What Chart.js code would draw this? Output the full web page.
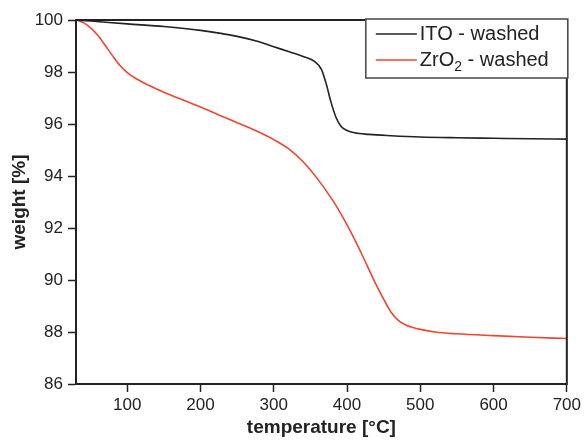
<!DOCTYPE html>
<html>
<head>
<meta charset="utf-8">
<title>TGA washed</title>
<script src="https://cdn.jsdelivr.net/npm/chart.js@4.4.0/dist/chart.umd.min.js"></script>
<style>
html, body { margin: 0; padding: 0; background: #fff; }
canvas { display: block; }
</style>
</head>
<body>
<canvas id="myChart" width="584" height="443"></canvas>
<script>
// ITO - washed
const itoTemp = [30, 50, 100, 150, 200, 250, 280, 300, 320, 340, 355, 365, 372, 378, 385, 392, 400, 410, 430, 460, 500, 550, 600, 650, 700];
const itoWeight = [100, 99.96, 99.85, 99.75, 99.6, 99.37, 99.16, 98.97, 98.79, 98.6, 98.42, 98.1, 97.5, 96.85, 96.25, 95.9, 95.75, 95.66, 95.6, 95.55, 95.5, 95.47, 95.45, 95.43, 95.42];

// ZrO2 - washed
const zrTemp = [30, 40, 50, 60, 70, 80, 90, 100, 110, 130, 150, 175, 200, 225, 250, 275, 300, 320, 340, 360, 380, 390, 400, 410, 420, 440, 455, 460, 470, 480, 490, 500, 520, 550, 600, 650, 700];
const zrWeight = [100, 99.9, 99.7, 99.4, 99.02, 98.62, 98.25, 97.98, 97.78, 97.48, 97.22, 96.93, 96.65, 96.35, 96.05, 95.75, 95.4, 95.05, 94.55, 93.88, 93.08, 92.62, 92.12, 91.58, 91.0, 89.8, 89.0, 88.76, 88.45, 88.27, 88.17, 88.1, 88.0, 87.93, 87.86, 87.8, 87.75];

const xTicks = [100, 200, 300, 400, 500, 600, 700];
const legendLabels = ['ITO - washed', 'ZrO2 - washed'];

const ink = '#222222';
const redLine = '#f0452f';
const fam = '"Liberation Sans", Arial, sans-serif';

function pts(xs, ys) {
  return xs.map((x, i) => ({ x: x, y: ys[i] }));
}

const frame = {
  id: 'frame',
  afterDraw(chart) {
    const ctx = chart.ctx;
    const a = chart.chartArea;
    ctx.save();
    ctx.strokeStyle = ink;
    ctx.lineWidth = 2;
    ctx.strokeRect(a.left, a.top, a.right - a.left, a.bottom - a.top);

    // legend box
    const bx = a.right - 201, by = a.top - 1, bw = 202, bh = 59;
    ctx.fillStyle = '#fff';
    ctx.fillRect(bx, by, bw, bh);
    ctx.lineWidth = 1.5;
    ctx.strokeStyle = '#444';
    ctx.strokeRect(bx, by, bw, bh);

    ctx.font = '20px ' + fam;
    ctx.textBaseline = 'middle';
    ctx.textAlign = 'left';
    const rows = [by + 15, by + 41];
    const colors = [ink, redLine];
    rows.forEach((yy, i) => {
      ctx.strokeStyle = colors[i];
      ctx.lineWidth = 1.5;
      ctx.beginPath();
      ctx.moveTo(bx + 10, yy);
      ctx.lineTo(bx + 51, yy);
      ctx.stroke();
      ctx.fillStyle = ink;
      let tx = bx + 54;
      if (i === 0) {
        ctx.fillText(legendLabels[0], tx, yy);
      } else {
        ctx.fillText('ZrO', tx, yy);
        tx += ctx.measureText('ZrO').width;
        ctx.font = '14px ' + fam;
        ctx.fillText('2', tx, yy + 7);
        tx += ctx.measureText('2').width;
        ctx.font = '20px ' + fam;
        ctx.fillText(' - washed', tx, yy);
      }
    });
    ctx.restore();
  }
};

const tickFont = { family: fam, size: 17 };
const titleFont = { family: fam, size: 19, weight: 'bold' };

new Chart(document.getElementById('myChart'), {
  type: 'line',
  data: {
    datasets: [
      {
        label: legendLabels[0],
        data: pts(itoTemp, itoWeight),
        borderColor: ink,
        borderWidth: 1.6,
        pointRadius: 0,
        fill: false,
        cubicInterpolationMode: 'monotone'
      },
      {
        label: legendLabels[1],
        data: pts(zrTemp, zrWeight),
        borderColor: redLine,
        borderWidth: 1.6,
        pointRadius: 0,
        fill: false,
        cubicInterpolationMode: 'monotone'
      }
    ]
  },
  options: {
    responsive: false,
    animation: false,
    layout: { padding: { top: 20, right: 16, left: 0, bottom: 0 } },
    plugins: { legend: { display: false }, tooltip: { enabled: false } },
    scales: {
      x: {
        type: 'linear',
        min: 30,
        max: 700,
        afterBuildTicks: s => { s.ticks = xTicks.map(v => ({ value: v })); },
        afterFit: s => { s.height = 59; },
        grid: { drawOnChartArea: false, tickLength: 8, tickWidth: 1.5, tickColor: ink },
        border: { color: ink, width: 2 },
        ticks: { color: ink, font: tickFont, padding: 3, maxRotation: 0 },
        title: { display: true, text: 'temperature [°C]', color: ink, font: titleFont, padding: { top: 0, bottom: 4 } }
      },
      y: {
        min: 86,
        max: 100,
        afterFit: s => { s.width = 76; },
        grid: { drawOnChartArea: false, tickLength: 8, tickWidth: 1.5, tickColor: ink },
        border: { color: ink, width: 2 },
        ticks: { stepSize: 2, color: ink, font: tickFont, padding: 5 },
        title: { display: true, text: 'weight [%]', color: ink, font: titleFont, padding: { top: 8, bottom: 0 } }
      }
    }
  },
  plugins: [frame]
});
</script>
</body>
</html>
